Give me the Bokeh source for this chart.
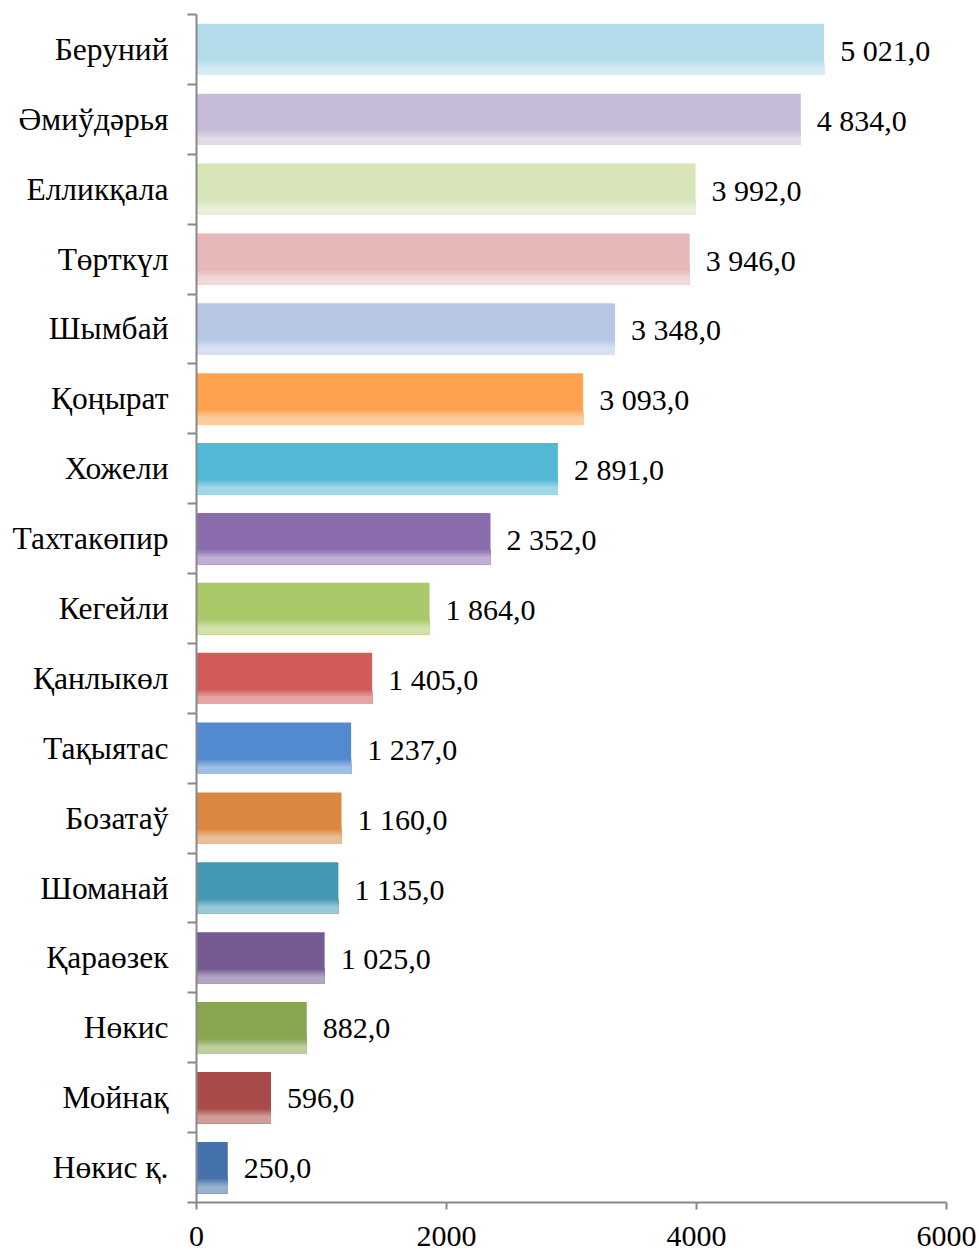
from bokeh.plotting import figure
from bokeh.models import ColumnDataSource, Range1d, FixedTicker
from bokeh.core.properties import value
from bokeh.embed import file_html
from bokeh.resources import INLINE

# ---- data ----
districts = ["Беруний", "Әмиўдәрья", "Елликқала", "Төрткүл", "Шымбай", "Қоңырат",
             "Хожели", "Тахтакөпир", "Кегейли", "Қанлыкөл", "Тақыятас", "Бозатаў",
             "Шоманай", "Қараөзек", "Нөкис", "Мойнақ", "Нөкис қ."]
values = [5021.0, 4834.0, 3992.0, 3946.0, 3348.0, 3093.0, 2891.0, 2352.0, 1864.0,
          1405.0, 1237.0, 1160.0, 1135.0, 1025.0, 882.0, 596.0, 250.0]
x_ticks = [0, 2000, 4000, 6000]

# ---- styles ----
colors = ["#B4DBEA", "#C6BCD7", "#D6E4B8", "#E8B8B8", "#B6C8E6", "#FFA24F",
          "#53B8D6", "#8B6DAE", "#A9C867", "#D05B59", "#528AD0", "#DA8741",
          "#4399B2", "#745A91", "#88A550", "#A94B48", "#4672AB"]
FONT = "Liberation Serif"
AXIS_COLOR = "#888888"


def hex2rgb(h):
    h = h.lstrip("#")
    return [int(h[i:i + 2], 16) for i in (0, 2, 4)]


def mix(c, t):
    r = hex2rgb(c)
    return "#%02x%02x%02x" % tuple(int(round(v + (255 - v) * t)) for v in r)


n = len(districts)
ys = [n - 1 - i for i in range(n)]
labels = [f"{v:,.1f}".replace(",", " ").replace(".", ",") for v in values]

p = figure(width=979, height=1256, output_backend="svg", toolbar_location=None,
           x_range=Range1d(0, 6000), y_range=Range1d(-0.5, n - 0.5),
           min_border_left=196, min_border_right=33, min_border_top=14,
           min_border_bottom=54)
p.outline_line_color = None
p.xgrid.visible = False
p.ygrid.visible = False
p.background_fill_color = "white"

H = 0.735
src = ColumnDataSource(dict(y=ys, right=values, color=colors))
p.hbar(y="y", left=0, right="right", height=H, fill_color="color",
       line_color=None, source=src)

# gradient bottom fade: overlapping layers, each from bar bottom upward
nsteps = 10
light_frac = 0.14
trans_frac = 0.16
for k in range(nsteps, -1, -1):
    top_frac = light_frac + trans_frac * k / nsteps
    t = 0.45 * (1 - k / nsteps)
    s = ColumnDataSource(dict(
        bottom=[y - H / 2 for y in ys],
        top=[y - H / 2 + H * top_frac for y in ys],
        right=values,
        color=[mix(c, t) for c in colors]))
    p.quad(left=0, right="right", bottom="bottom", top="top", fill_color="color",
           line_color=None, source=s)

# value labels
p.text(x="right", y="y", text="lab", source=ColumnDataSource(dict(right=values, y=ys, lab=labels)),
       x_offset=16, y_offset=1, text_baseline="middle", text_align="left",
       text_font=value(FONT), text_font_size="30px", text_color="black")

# x axis
xa = p.xaxis[0]
xa.ticker = FixedTicker(ticks=x_ticks, minor_ticks=[])
xa.axis_line_color = AXIS_COLOR
xa.axis_line_width = 2
xa.major_tick_line_color = AXIS_COLOR
xa.major_tick_line_width = 2
xa.major_tick_in = 0
xa.major_tick_out = 7
xa.minor_tick_line_color = None
xa.major_label_standoff = 17
xa.major_label_text_font = FONT
xa.major_label_text_font_size = "30px"
xa.major_label_text_color = "black"

# y axis: labels at centers, ticks at boundaries
ya = p.yaxis[0]
ya.ticker = FixedTicker(ticks=ys, minor_ticks=[k - 0.5 for k in range(n + 1)])
ya.major_label_overrides = {y: d for y, d in zip(ys, districts)}
ya.axis_line_color = AXIS_COLOR
ya.axis_line_width = 2
ya.major_tick_line_color = None
ya.major_tick_in = 0
ya.major_tick_out = 0
ya.minor_tick_line_color = AXIS_COLOR
ya.minor_tick_line_width = 2
ya.minor_tick_in = 0
ya.minor_tick_out = 9
ya.major_label_standoff = 19
ya.major_label_text_font = FONT
ya.major_label_text_font_size = "31.5px"
ya.major_label_text_color = "black"

open("out.html", "w").write(file_html(p, INLINE))
